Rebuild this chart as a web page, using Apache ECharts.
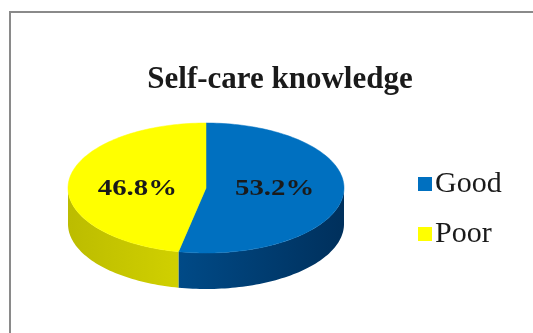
<!DOCTYPE html>
<html>
<head>
<meta charset="utf-8">
<script src="https://cdn.jsdelivr.net/npm/echarts@6/dist/echarts.min.js"></script>
<style>
html,body{margin:0;padding:0;background:#fff;}
#chart{width:533px;height:333px;}
</style>
</head>
<body>
<div id="chart"></div>
<script>
// ---- data ----
const titleText = 'Self-care knowledge';
const categories = ['Good', 'Poor'];
const values = [53.2, 46.8];
const topColors = ['#0070C0', '#FFFF00'];
const sideColorsA = ['#004a87', '#bcbc00'];
const sideColorsB = ['#00305c', '#d0d000'];

const total = values.reduce((a, b) => a + b, 0);
const starts = values.map((v, i) => values.slice(0, i).reduce((a, b) => a + b, 0));

// ---- layout ----
const SERIF = '"Liberation Serif", "Times New Roman", "DejaVu Serif", serif';
const PIE = { cx: 206, cy: 188, rx: 138, ry: 65, depth: 36 };

function makeRender(idx) {
  return function (params, api) {
    const start = api.value(0), val = api.value(1);
    const TWO_PI = Math.PI * 2;
    const a0 = start / total * TWO_PI, a1 = (start + val) / total * TWO_PI;
    const { cx, cy, rx, ry, depth } = PIE;
    const pt = (t, dy) => [cx + rx * Math.sin(t), cy - ry * Math.cos(t) + dy];
    const arc = (s, e, dy) => {
      const n = Math.max(2, Math.ceil((e - s) / TWO_PI * 240));
      const out = [];
      for (let k = 0; k <= n; k++) out.push(pt(s + (e - s) * k / n, dy));
      return out;
    };
    const children = [];
    const s = Math.max(a0, Math.PI / 2), e = Math.min(a1, Math.PI * 1.5);
    if (s < e) {
      const upper = arc(s, e, 0);
      const lower = arc(s, e, depth).reverse();
      const xs = upper.map(p => p[0]);
      const xmin = Math.min.apply(null, xs), xmax = Math.max.apply(null, xs);
      children.push({
        type: 'polygon', z2: 1,
        shape: { points: upper.concat(lower) },
        style: {
          fill: {
            type: 'linear', global: true, x: xmin, y: 0, x2: xmax, y2: 0,
            colorStops: [
              { offset: 0, color: sideColorsA[idx] },
              { offset: 1, color: sideColorsB[idx] }
            ]
          },
          stroke: null
        }
      });
    }
    children.push({
      type: 'polygon', z2: 5,
      shape: { points: [[cx, cy]].concat(arc(a0, a1, 0)) },
      style: { fill: topColors[idx], stroke: topColors[idx], lineWidth: 0.5 }
    });
    const mid = (a0 + a1) / 2;
    const lp = [cx + rx * 0.5 * Math.sin(mid), cy + 1];
    children.push({
      type: 'text', z2: 10,
      x: lp[0], y: lp[1], scaleX: 1.2,
      style: {
        text: val.toFixed(1) + '%',
        x: 0, y: 0, align: 'center', verticalAlign: 'middle',
        fontFamily: SERIF, fontWeight: 'bold', fontSize: 24, fill: '#1a1a1a'
      }
    });
    return { type: 'group', children: children };
  };
}

const chart = echarts.init(document.getElementById('chart'));
chart.setOption({
  backgroundColor: '#ffffff',
  animation: false,
  title: {
    text: titleText,
    left: 275, top: 59, textAlign: 'center',
    textStyle: { fontFamily: SERIF, fontWeight: 'bold', fontSize: 31, color: '#1a1a1a' }
  },
  legend: {
    orient: 'vertical', left: 413, top: 164, itemGap: 20,
    icon: 'rect', itemWidth: 14, itemHeight: 14, itemStyle: { borderWidth: 0 },
    data: categories,
    textStyle: { fontFamily: SERIF, fontSize: 30, color: '#1a1a1a', padding: [0, 0, 0, -2] }
  },
  graphic: [{
    type: 'rect', shape: { x: 10, y: 12, width: 600, height: 400 },
    style: { fill: 'none', stroke: '#8a8a8a', lineWidth: 2 }, silent: true
  }],
  series: categories.map((name, i) => ({
    type: 'custom', name: name, coordinateSystem: 'none',
    itemStyle: { color: topColors[i] },
    data: [[starts[i], values[i]]],
    renderItem: makeRender(i)
  }))
});
</script>
</body>
</html>
